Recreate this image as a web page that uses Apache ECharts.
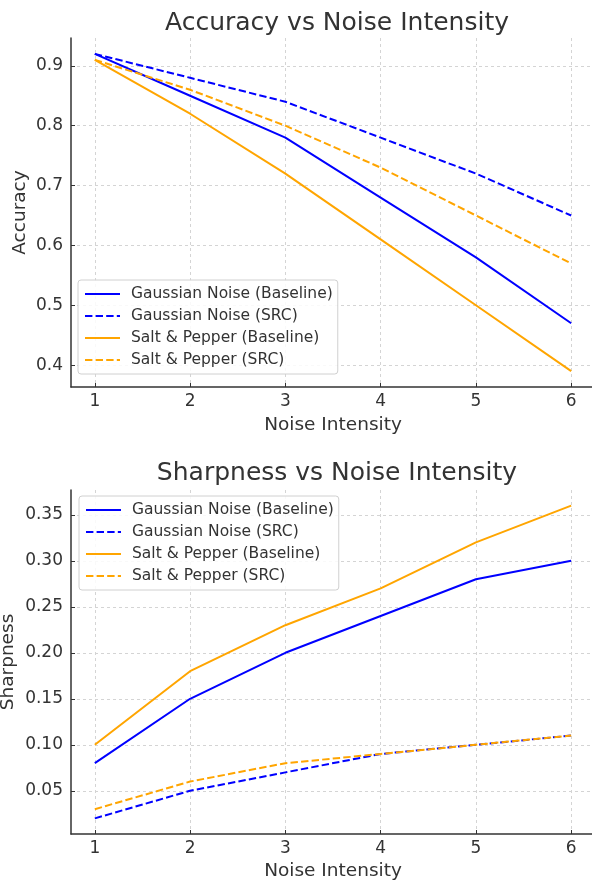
<!DOCTYPE html>
<html>
<head>
<meta charset="utf-8">
<script src="https://cdn.jsdelivr.net/npm/echarts@6/dist/echarts.min.js"></script>
<style>
html,body{margin:0;padding:0;background:#fff;}
#main{width:592px;height:882px;}
</style>
</head>
<body>
<div id="main"></div>
<script>
var noiseLevels = [1, 2, 3, 4, 5, 6];
var accGaussBase = [0.92, 0.85, 0.78, 0.68, 0.58, 0.47];
var accGaussSrc = [0.92, 0.88, 0.84, 0.78, 0.72, 0.65];
var accSaltBase = [0.91, 0.82, 0.72, 0.61, 0.50, 0.39];
var accSaltSrc = [0.91, 0.86, 0.80, 0.73, 0.65, 0.57];
var shpGaussBase = [0.08, 0.15, 0.20, 0.24, 0.28, 0.30];
var shpGaussSrc = [0.02, 0.05, 0.07, 0.09, 0.10, 0.11];
var shpSaltBase = [0.10, 0.18, 0.23, 0.27, 0.32, 0.36];
var shpSaltSrc = [0.03, 0.06, 0.08, 0.09, 0.10, 0.11];
var accTicks = [0.4, 0.5, 0.6, 0.7, 0.8, 0.9];
var shpTicks = [0.05, 0.10, 0.15, 0.20, 0.25, 0.30, 0.35];
var legendNames = ['Gaussian Noise (Baseline)', 'Gaussian Noise (SRC)', 'Salt & Pepper (Baseline)', 'Salt & Pepper (SRC)'];

var font = 'DejaVu Sans';
var txt = '#333';

function pairs(ys) {
    return noiseLevels.map(function (x, i) { return [x, ys[i]]; });
}

function mkX(idx, gap) {
    return {
        type: 'value', gridIndex: idx, min: 0.75, max: 6.25,
        name: 'Noise Intensity', nameLocation: 'middle', nameGap: gap, nameMoveOverlap: false,
        nameTextStyle: {fontFamily: font, fontSize: 18.5, color: txt},
        axisLine: {show: true, lineStyle: {color: '#333', width: 1.5}},
        axisTick: {show: true, inside: true, length: 4, customValues: noiseLevels, lineStyle: {color: '#333'}},
        axisLabel: {customValues: noiseLevels, fontFamily: font, fontSize: 17, color: txt, margin: 6},
        splitLine: {show: true, lineStyle: {color: '#d4d4d4', type: [3, 3]}}
    };
}

function mkY(idx, name, min, max, ticks, gap, fmt) {
    return {
        type: 'value', gridIndex: idx, min: min, max: max,
        name: name, nameLocation: 'middle', nameGap: gap, nameRotate: 90, nameMoveOverlap: false,
        nameTextStyle: {fontFamily: font, fontSize: 18.5, color: txt},
        axisLine: {show: true, lineStyle: {color: '#333', width: 1.5}},
        axisTick: {show: true, inside: true, length: 4, customValues: ticks, lineStyle: {color: '#333'}},
        axisLabel: {customValues: ticks, fontFamily: font, fontSize: 17, color: txt, margin: 8,
            formatter: function (v) { return v.toFixed(fmt); }},
        splitLine: {show: true, lineStyle: {color: '#d4d4d4', type: [3, 3]}}
    };
}

function mkLine(name, idx, ys, color, dashed) {
    return {
        name: name, type: 'line', xAxisIndex: idx, yAxisIndex: idx,
        data: pairs(ys), symbol: 'none', showSymbol: false,
        lineStyle: {color: color, width: 2, type: dashed ? [7.4, 3.2] : 'solid'},
        itemStyle: {color: color},
        emphasis: {disabled: true}
    };
}

function mkLegend(left, top) {
    return {
        data: legendNames, orient: 'vertical', left: left, top: top,
        itemWidth: 35, itemHeight: 14, itemGap: 6,
        padding: [6, 5, 6, 6],
        backgroundColor: 'rgba(255,255,255,0.85)',
        borderColor: '#d0d0d0', borderWidth: 1, borderRadius: 3,
        itemStyle: {opacity: 0},
        textStyle: {fontFamily: font, fontSize: 15.5, color: txt, padding: [0, 0, 0, 6]},
        selectedMode: false
    };
}

var chart = echarts.init(document.getElementById('main'), null, {renderer: 'canvas'});
var option = {
    animation: false,
    backgroundColor: '#fff',
    title: [
        {text: 'Accuracy vs Noise Intensity', left: 332, top: 6, textAlign: 'center',
            textStyle: {fontFamily: font, fontSize: 25, fontWeight: 'normal', color: txt}},
        {text: 'Sharpness vs Noise Intensity', left: 332, top: 456, textAlign: 'center',
            textStyle: {fontFamily: font, fontSize: 25, fontWeight: 'normal', color: txt}}
    ],
    grid: [
        {left: 71, top: 38, width: 524, height: 349, outerBoundsMode: 'none', containLabel: false},
        {left: 71, top: 490, width: 524, height: 344, outerBoundsMode: 'none', containLabel: false}
    ],
    xAxis: [mkX(0, 29), mkX(1, 28)],
    yAxis: [
        mkY(0, 'Accuracy', 0.3635, 0.9465, accTicks, 41, 1),
        mkY(1, 'Sharpness', 0.003, 0.377, shpTicks, 53, 2)
    ],
    legend: [mkLegend(78, 280), mkLegend(79, 496)],
    series: [
        mkLine(legendNames[0], 0, accGaussBase, '#0000ff', false),
        mkLine(legendNames[1], 0, accGaussSrc, '#0000ff', true),
        mkLine(legendNames[2], 0, accSaltBase, '#ffa500', false),
        mkLine(legendNames[3], 0, accSaltSrc, '#ffa500', true),
        mkLine(legendNames[0], 1, shpGaussBase, '#0000ff', false),
        mkLine(legendNames[1], 1, shpGaussSrc, '#0000ff', true),
        mkLine(legendNames[2], 1, shpSaltBase, '#ffa500', false),
        mkLine(legendNames[3], 1, shpSaltSrc, '#ffa500', true)
    ]
};
chart.setOption(option);
</script>
</body>
</html>
